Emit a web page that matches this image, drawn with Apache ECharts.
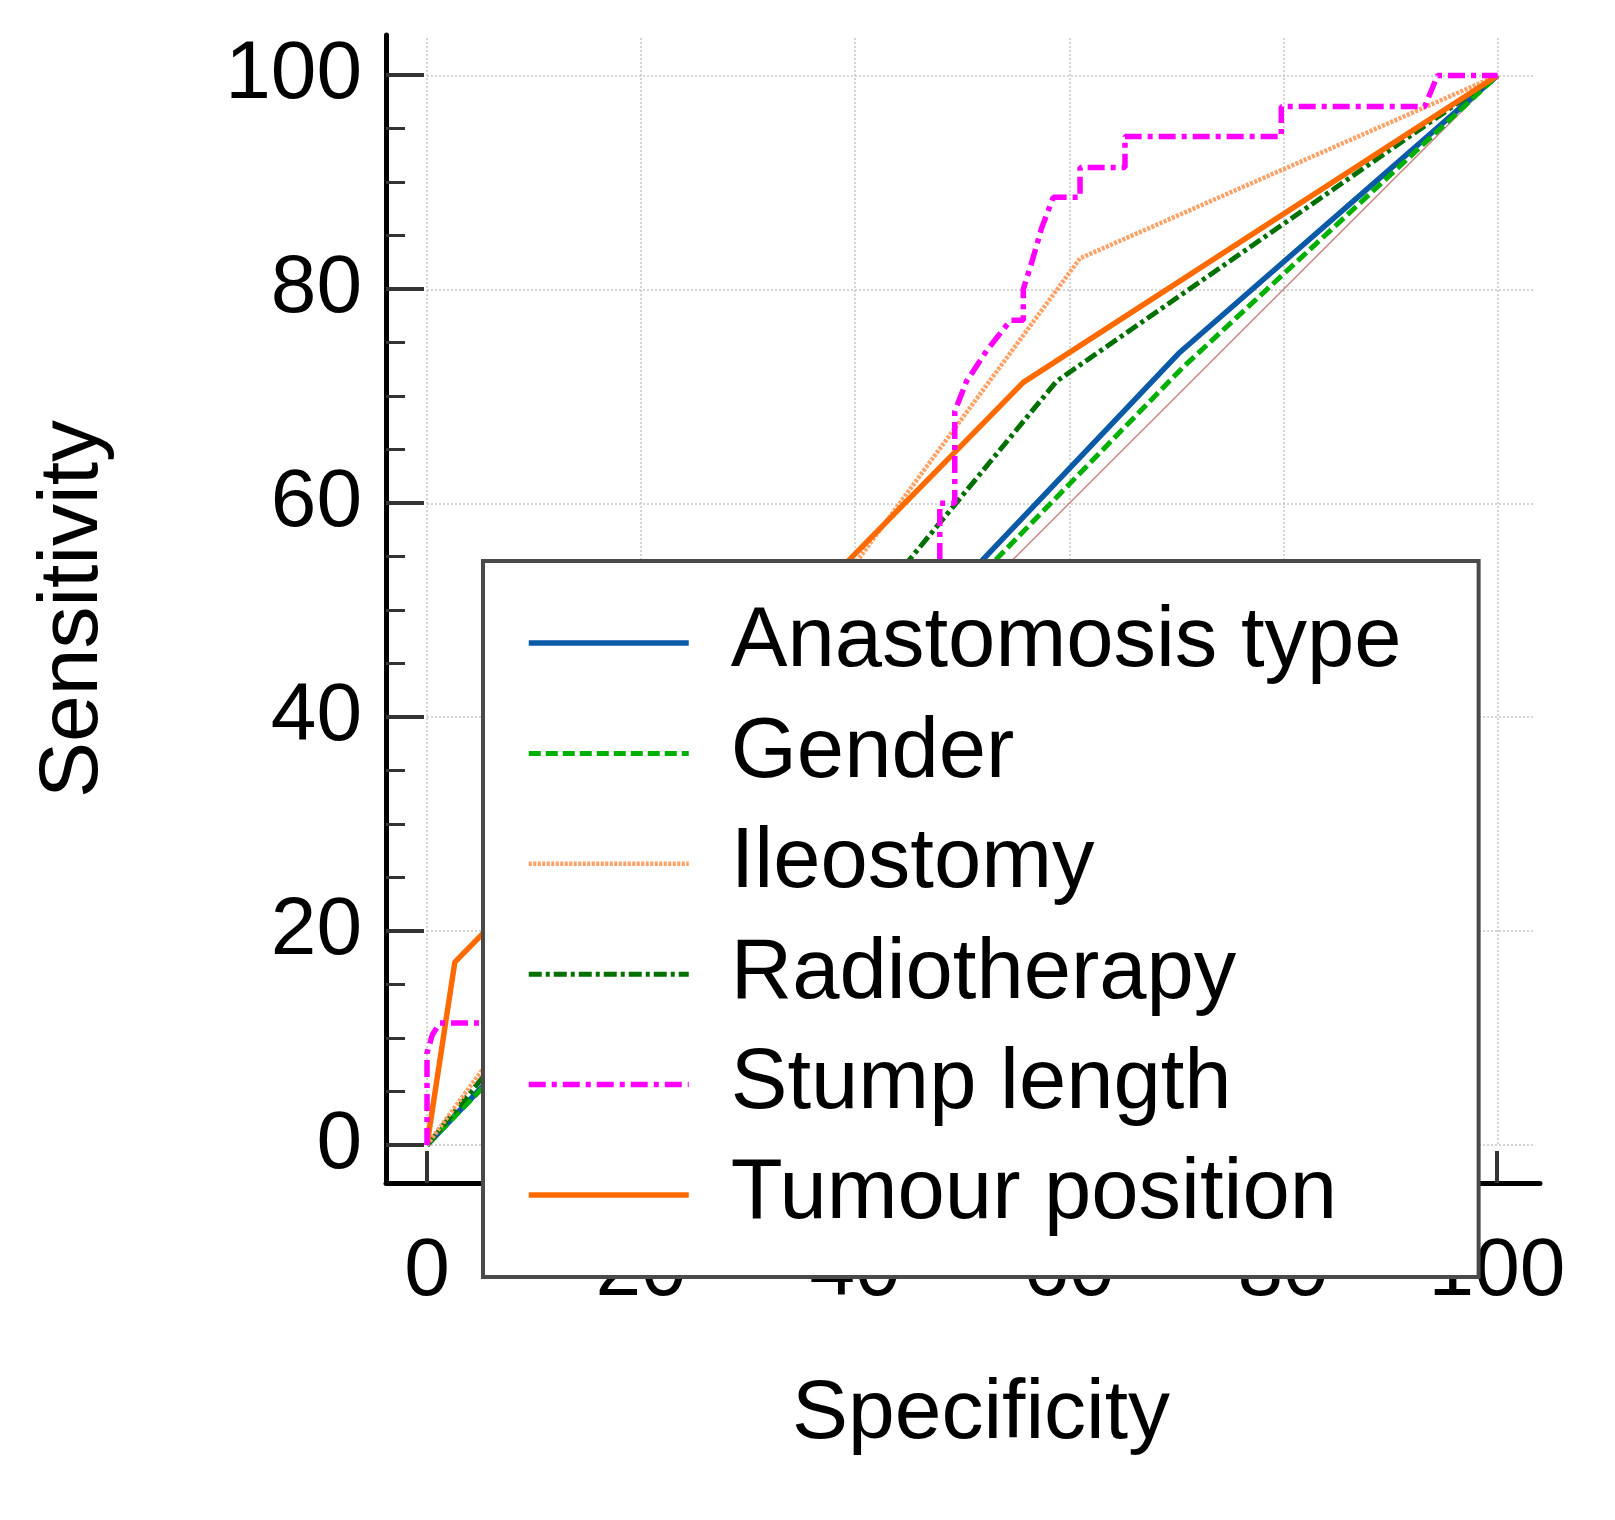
<!DOCTYPE html>
<html>
<head>
<meta charset="utf-8">
<script src="https://cdn.jsdelivr.net/npm/echarts@6/dist/echarts.min.js"></script>
<style>
html,body{margin:0;padding:0;background:#fff;}
#chart{width:1615px;height:1520px;}
</style>
</head>
<body>
<div id="chart"></div>
<script>
// ---- data ----
const seriesNames = ['Anastomosis type', 'Gender', 'Ileostomy', 'Radiotherapy', 'Stump length', 'Tumour position'];
const anastomosisType = [[0, 0], [70.2, 74.0], [100, 100]];
const gender = [[0, 0], [70.6, 72.7], [100, 100]];
const ileostomy = [[0, 0], [61.0, 82.9], [100, 100]];
const radiotherapy = [[0, 0], [58.8, 71.4], [100, 100]];
const stumpLength = [[0, 0], [0, 8.6], [0.5, 10.3], [1.2, 11.4], [47.9, 11.4], [47.9, 60.0], [49.3, 60.0], [49.3, 68.6],
  [50.4, 71.4], [52.3, 74.3], [54.5, 77.1], [55.7, 77.1], [55.7, 80.0], [56.6, 82.9], [57.4, 85.7], [58.5, 88.6],
  [61.0, 88.6], [61.0, 91.4], [65.2, 91.4], [65.2, 94.3], [79.8, 94.3], [79.8, 97.1], [93.2, 97.1], [94.4, 100], [100, 100]];
const tumourPosition = [[0, 0], [2.6, 17.1], [55.7, 71.3], [100, 100]];
const referenceLine = [[0, 0], [100, 100]];
const majorTicks = [0, 20, 40, 60, 80, 100];
const minorTicks = [5, 10, 15, 25, 30, 35, 45, 50, 55, 65, 70, 75, 85, 90, 95];

// ---- chart ----
const FONT = '"Liberation Sans", Arial, sans-serif';
const chart = echarts.init(document.getElementById('chart'), null, {renderer: 'canvas'});

function curve(name, data, color, width, type) {
  return {
    name: name, type: 'line', xAxisIndex: 0, yAxisIndex: 0, data: data,
    symbol: 'none', showSymbol: false, silent: true,
    lineStyle: {color: color, width: width, type: type},
    itemStyle: {color: color},
    emphasis: {disabled: true}
  };
}

const gridLine = {show: true, showMaxLine: false, lineStyle: {color: '#c6c6c6', width: 1.5, type: [2, 2]}};
const titleText = {fontSize: 84, fontFamily: FONT, color: '#000'};

const option = {
  animation: false,
  backgroundColor: '#fff',
  grid: [
    {left: 427, top: 38, width: 1108, height: 1107},
    {left: 386, top: 35, width: 1154, height: 1148}
  ],
  xAxis: [
    {
      type: 'value', gridIndex: 0, min: 0, max: 103.5, interval: 20,
      axisLine: {show: false}, axisTick: {show: false}, axisLabel: {show: false},
      splitLine: gridLine,
      name: 'Specificity', nameLocation: 'middle', nameGap: 228, nameTextStyle: titleText
    },
    {
      type: 'value', gridIndex: 1, position: 'bottom', min: -3.832, max: 104.02,
      axisLine: {show: true, onZero: false, lineStyle: {color: '#000', width: 5}},
      axisTick: {show: true, inside: true, length: 32, customValues: majorTicks, lineStyle: {color: '#333', width: 4}},
      axisLabel: {show: true, customValues: majorTicks, margin: 48, fontSize: 82, fontFamily: FONT, color: '#000'},
      splitLine: {show: false}
    }
  ],
  yAxis: [
    {
      type: 'value', gridIndex: 0, position: 'left', min: 0, max: 103.5, interval: 20,
      axisLine: {show: false}, axisTick: {show: false}, axisLabel: {show: false},
      splitLine: gridLine
    },
    {
      type: 'value', gridIndex: 1, position: 'left', min: -3.551, max: 103.738,
      axisLine: {show: true, onZero: false, lineStyle: {color: '#000', width: 5}},
      axisTick: {show: true, inside: true, length: 38, customValues: majorTicks, lineStyle: {color: '#333', width: 4}},
      axisLabel: {show: true, customValues: majorTicks, margin: 24, fontSize: 82, fontFamily: FONT, color: '#000'},
      splitLine: {show: false},
      name: 'Sensitivity', nameLocation: 'middle', nameGap: 270, nameTextStyle: titleText
    },
    {
      type: 'value', gridIndex: 1, position: 'left', offset: 0, min: -3.551, max: 103.738,
      axisLine: {show: false, onZero: false},
      axisTick: {show: true, inside: true, length: 19, customValues: minorTicks, lineStyle: {color: '#333', width: 3}},
      axisLabel: {show: false},
      splitLine: {show: false}
    }
  ],
  legend: {
    data: seriesNames,
    orient: 'vertical', left: 483, top: 561,
    padding: [37, 77, 37, 43],
    itemWidth: 160, itemHeight: 14, itemGap: 20.4,
    backgroundColor: '#fff', borderColor: '#4a4a4a', borderWidth: 4,
    selectedMode: false,
    itemStyle: {opacity: 0, borderWidth: 0},
    lineStyle: {width: 'inherit'},
    textStyle: {fontSize: 85, fontFamily: FONT, color: '#000', lineHeight: 90, padding: [0, 0, 0, 37]}
  },
  series: [
    curve('Reference', referenceLine, '#c98484', 1.5, 'solid'),
    curve(seriesNames[0], anastomosisType, '#0a5aa8', 5.5, 'solid'),
    curve(seriesNames[1], gender, '#00b000', 5, [12, 5]),
    curve(seriesNames[3], radiotherapy, '#007000', 5, [13, 4, 4, 4]),
    curve(seriesNames[2], ileostomy, '#ffa064', 4.5, [3, 1.5]),
    curve(seriesNames[5], tumourPosition, '#ff6a00', 5.5, 'solid'),
    curve(seriesNames[4], stumpLength, '#ff00ff', 5.5, [17, 6, 5, 6])
  ]
};
chart.setOption(option);
</script>
</body>
</html>
